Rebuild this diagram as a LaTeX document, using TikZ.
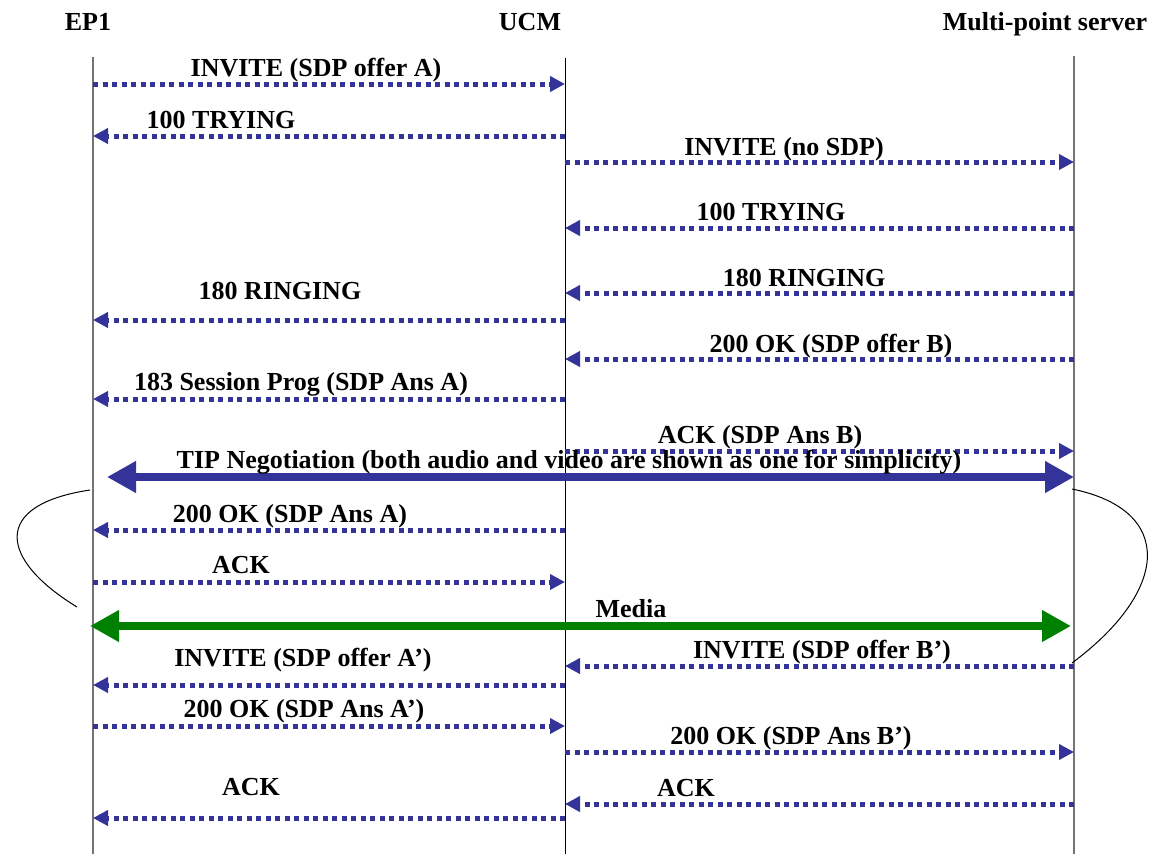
\documentclass[tikz,border=0pt]{standalone}
\usepackage{fontspec}
\setmainfont{Liberation Serif}
\usetikzlibrary{arrows.meta}
\definecolor{msgblue}{HTML}{333399}
\definecolor{mediagreen}{HTML}{008000}
\tikzset{
  party/.style={font=\fontsize{26}{28}\selectfont\bfseries, anchor=base, inner sep=0pt},
  msglabel/.style={party},
  lifeline/.style={line width=1.4pt, draw=black!55},
  lifelinedark/.style={line width=1pt, draw=black},
  msg/.style={draw=msgblue, line width=5pt, dash pattern=on 5pt off 4.5pt,
    -{Triangle[length=15pt, width=15pt]}},
  bigarrow/.style={line width=8.5pt,
    {Triangle[length=29pt, width=30pt]}-{Triangle[length=29pt, width=30pt]}},
  bracket/.style={line width=1pt, draw=black}
}

\begin{document}
\begin{tikzpicture}[x=1pt, y=-1pt]
\useasboundingbox (0,0) rectangle (1151,854);

\node[party] (ep1) at (88,30) {EP1};
\node[party] (ucm) at (530,30) {UCM};
\node[party] (mps) at (1045,30) {Multi-point server};

\coordinate (ep1top) at (93,57);
\coordinate (ep1bot) at (93,854);
\coordinate (ucmtop) at (565,58);
\coordinate (ucmbot) at (565,854);
\coordinate (mpstop) at (1074,56);
\coordinate (mpsbot) at (1074,854);

\draw[lifeline] (ep1top) -- (ep1bot);
\draw[lifelinedark] (ucmtop) -- (ucmbot);
\draw[lifeline] (mpstop) -- (mpsbot);

\foreach \y/\a/\b/\lx/\ly/\txt [count=\i] in {
  84/ep1top/ucmtop/316/76/{INVITE (SDP offer A)},
  136/ucmtop/ep1top/221/128/{100 TRYING},
  162/ucmtop/mpstop/784/155/{INVITE (no SDP)},
  228/mpstop/ucmtop/771/220/{100 TRYING},
  293/mpstop/ucmtop/804/286/{180 RINGING},
  320/ucmtop/ep1top/280/299/{180 RINGING},
  359/mpstop/ucmtop/831/352/{200 OK (SDP offer B)},
  399/ucmtop/ep1top/301/390/{183 Session Prog (SDP Ans A)},
  451/ucmtop/mpstop/760/443/{ACK (SDP Ans B)},
  530/ucmtop/ep1top/290/522/{200 OK (SDP Ans A)},
  582/ep1top/ucmtop/241/573/{ACK},
  666/mpstop/ucmtop/822/658/{INVITE (SDP offer B’)},
  685/ucmtop/ep1top/303/666/{INVITE (SDP offer A’)},
  726/ep1top/ucmtop/304/717/{200 OK (SDP Ans A’)},
  752/ucmtop/mpstop/791/744/{200 OK (SDP Ans B’)},
  804/mpstop/ucmtop/686/796/{ACK},
  818/ucmtop/ep1top/251/795/{ACK}}
{
  \draw[msg] (\a|-0,\y) -- (\b|-0,\y);
  \node[msglabel] (lbl\i) at (\lx,\ly) {\txt};
}

\coordinate (tipleft) at (107,477);
\coordinate (tipright) at (mpstop|-0,477);
\draw[bigarrow, draw=msgblue, fill=msgblue] (tipleft) -- (tipright);
\node[msglabel] (tiplbl) at (569,468)
  {TIP Negotiation (both audio and video are shown as one for simplicity)};

\coordinate (medialeft) at (90,626);
\coordinate (mediaright) at (1071,626);
\draw[bigarrow, draw=mediagreen, fill=mediagreen] (medialeft) -- (mediaright);
\node[msglabel] (medialbl) at (631,617) {Media};

\coordinate (leftopen) at (90,490);
\coordinate (leftclose) at (77,607);
\draw[bracket] (leftopen) .. controls (-10,505) and (0,560) .. (leftclose);

\coordinate (rightopen) at (1072,489);
\coordinate (rightclose) at (1072,663);
\draw[bracket] (rightopen) .. controls (1175,510) and (1170,590) .. (rightclose);

\end{tikzpicture}
\end{document}
